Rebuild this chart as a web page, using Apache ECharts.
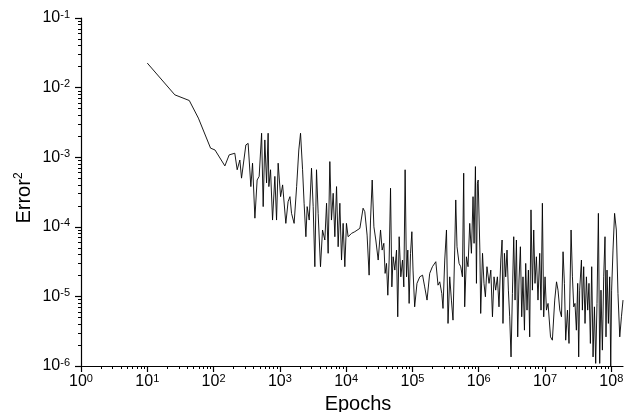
<!DOCTYPE html>
<html><head><meta charset="utf-8">
<script src="https://cdn.jsdelivr.net/npm/echarts@6/dist/echarts.min.js"></script>
<style>html,body{margin:0;padding:0;background:#fff}#c{width:624px;height:412px}</style>
</head><body><div id="c"></div>
<script>
const epochs = [10,26,43,59,90,105,148,172,209,227,249,264,307,332,365,387,420,454,487,530,560,593,630,665,
682,723,775,840,891,942,
1025,1100,1230,1330,1420,1500,1640,1790,1930,2050,
2200,2320,2470,2580,2770,3000,3180,3370,3570,3780,
4100,4400,4770,5060,5350,5670,6000,6370,6750,7160,
7570,8030,8510,9000,9550,1.01e4,1.07e4,1.21e4,1.35e4,1.61e4,
1.8e4,1.91e4,2.07e4,2.22e4,2.33e4,2.47e4,2.62e4,2.8e4,3.04e4,3.3e4,
3.49e4,3.7e4,3.87e4,4.06e4,4.25e4,4.45e4,4.67e4,4.89e4,5.11e4,5.42e4,
5.75e4,6.0e4,6.3e4,6.68e4,7.08e4,7.41e4,7.75e4,8.14e4,8.51e4,8.91e4,
9.35e4,9.8e4,1.02e5,1.08e5,1.17e5,1.29e5,1.42e5,1.53e5,1.66e5,1.82e5,
2.0e5,2.25e5,2.43e5,2.58e5,2.77e5,2.89e5,3.07e5,3.26e5,3.44e5,3.65e5,
3.87e5,4.09e5,4.34e5,4.5e5,4.7e5,5.05e5,5.35e5,5.67e5,5.93e5,6.14e5,
6.52e5,6.89e5,7.31e5,7.75e5,8.2e5,8.5e5,8.91e5,9.23e5,9.55e5,9.8e5,
1.04e6,1.07e6,1.14e6,1.2e6,1.26e6,1.33e6,1.43e6,1.52e6,1.61e6,1.7e6,
1.8e6,1.91e6,2.02e6,2.15e6,2.25e6,2.32e6,2.44e6,2.55e6,2.67e6,2.8e6,
2.93e6,3.07e6,3.22e6,3.37e6,3.53e6,3.7e6,3.87e6,4.05e6,4.25e6,4.45e6,
4.65e6,4.89e6,5.11e6,5.35e6,5.61e6,5.87e6,6.14e6,6.45e6,6.75e6,7.06e6,
7.41e6,7.83e6,8.31e6,8.7e6,9.12e6,9.55e6,1.0e7,1.05e7,1.11e7,1.21e7,
1.29e7,1.4e7,1.49e7,1.57e7,1.67e7,1.77e7,1.87e7,1.96e7,2.05e7,2.18e7,
2.3e7,2.47e7,2.59e7,2.71e7,2.83e7,2.97e7,3.11e7,3.22e7,3.33e7,3.54e7,
3.66e7,3.83e7,4.01e7,4.21e7,4.4e7,4.6e7,4.83e7,5.06e7,5.3e7,5.56e7,
5.81e7,6.08e7,6.38e7,6.68e7,6.98e7,7.33e7,7.67e7,8.03e7,8.31e7,8.61e7,
9.03e7,9.45e7,9.8e7,1.01e8,1.06e8,1.12e8,1.19e8,1.26e8,1.34e8,1.42e8,1.5e8];

const errors = [2.25e-2,7.87e-3,6.52e-3,3.64e-3,1.35e-3,1.27e-3,7.5e-4,1.08e-3,1.14e-3,6.6e-4,9.1e-4,5.0e-4,1.5e-3,1.58e-3,3.78e-4,8.2e-4,1.33e-4,4.7e-4,5.3e-4,2.21e-3,1.95e-4,1.77e-3,4.27e-4,2.21e-3,
3.78e-4,6.6e-4,1.25e-4,5.3e-4,1.25e-4,8.2e-4,
2.71e-4,4.0e-4,1.12e-4,2.3e-4,2.71e-4,1.56e-4,1.12e-4,3.78e-4,1.27e-3,2.21e-3,
6.6e-4,2.18e-4,7.2e-5,1.95e-4,1.25e-4,6.95e-4,1.95e-4,2.67e-5,6.6e-4,1.56e-4,
2.67e-5,9.0e-5,6.46e-5,2.18e-4,4.16e-5,8.65e-4,1.25e-4,3.03e-4,7.2e-5,3.78e-4,
5.17e-5,2.18e-4,3.33e-5,1.12e-4,2.67e-5,1.12e-4,7.2e-5,8.06e-5,8.5e-5,9.5e-5,
1.85e-4,1.65e-4,7.6e-5,2.02e-5,1.25e-4,4.7e-4,1.0e-4,6.46e-5,3.33e-5,9.0e-5,
4.63e-5,5.79e-5,2.14e-5,2.98e-5,1.04e-5,3.33e-5,3.58e-4,1.37e-5,3.71e-5,2.39e-5,
4.63e-5,5.09e-6,7.2e-5,1.91e-5,3.33e-5,1.37e-5,6.6e-4,1.91e-5,4.63e-5,7.93e-6,
4.16e-5,8.5e-5,2.39e-5,7.08e-6,1.54e-5,1.91e-5,2.02e-5,1.37e-5,8.85e-6,2.14e-5,
2.67e-5,3.15e-5,1.45e-5,1.62e-5,1.1e-5,6.72e-6,3.33e-5,9.0e-5,4.09e-6,1.91e-5,
8.85e-6,4.56e-6,4.63e-5,2.43e-4,5.17e-5,2.98e-5,2.67e-5,1.91e-5,5.89e-4,7.08e-6,
3.71e-5,2.67e-5,1.12e-4,4.16e-5,2.71e-4,5.79e-5,7.33e-4,1.54e-5,4.23e-4,4.7e-4,
4.63e-5,5.69e-6,4.16e-5,1.54e-5,9.87e-6,2.67e-5,1.54e-5,2.39e-5,5.09e-6,1.91e-5,
1.23e-5,1.91e-5,7.08e-6,3.33e-5,6.46e-5,4.09e-6,4.16e-5,1.91e-5,4.63e-5,1.23e-5,
5.09e-6,1.35e-6,1.1e-5,7.2e-5,8.85e-6,6.46e-5,2.62e-6,1.72e-5,5.17e-5,5.09e-6,
1.91e-5,3.27e-6,2.98e-5,6.35e-6,2.39e-5,2.62e-6,1.75e-4,1.23e-5,9.0e-5,1.54e-5,
3.71e-5,8.85e-6,4.16e-5,6.35e-6,2.18e-4,5.09e-6,1.91e-5,6.35e-6,7.93e-6,2.62e-6,
2.35e-6,8.85e-6,1.62e-5,1.23e-5,6.35e-6,5.09e-6,4.38e-5,1.54e-5,2.35e-6,6.35e-6,
2.11e-6,9.0e-5,1.91e-5,7.08e-6,7.93e-6,3.27e-6,1.54e-5,1.35e-6,1.23e-5,3.33e-5,
6.35e-6,2.67e-5,4.09e-6,1.91e-5,6.35e-6,1.54e-5,2.11e-6,2.67e-5,1.35e-6,7.08e-6,
1.09e-6,7.93e-6,1.56e-4,1.09e-6,1.23e-5,1.69e-6,1.91e-5,7.2e-5,2.62e-6,2.39e-5,
4.09e-6,1.91e-5,1.0e-6,1.23e-5,4.63e-5,1.56e-4,9.0e-5,1.1e-5,2.62e-6,5.09e-6,8.85e-6];

// tick labels: decade exponents
const xDecades = [0,1,2,3,4,5,6,7,8];
const yDecades = [-6,-5,-4,-3,-2,-1];
const mantissas = [2,3,4,5,6,7,8,9];

const X_MIN = 1, X_MAX = 1.5e8, Y_MIN = 1e-6, Y_MAX = 1e-1;
const FONT = 'Liberation Sans';

// decade-exponent scale used only to draw log ticks (same pixel range as the log axes)
const xExpMin = Math.log10(X_MIN), xExpMax = Math.log10(X_MAX);
const yExpMin = Math.log10(Y_MIN), yExpMax = Math.log10(Y_MAX);
const minorOf = decs => {
  const out = [];
  decs.forEach(d => mantissas.forEach(m => out.push(d + Math.log10(m))));
  return out;
};
const xMinor = minorOf(xDecades).filter(v => v <= xExpMax);
const yMinor = minorOf(yDecades.slice(0, -1));

const labelRich = {
  b: { fontSize: 16, fontFamily: FONT, color: '#000', lineHeight: 18 },
  s: { fontSize: 11, fontFamily: FONT, color: '#000', lineHeight: 11, verticalAlign: 'top' }
};
const powLabel = v => '{b|10}{s|' + Math.round(v) + '}';

const chart = echarts.init(document.getElementById('c'), null, { renderer: 'canvas' });
chart.setOption({
  animation: false,
  backgroundColor: '#fff',
  grid: { left: 81, right: 1, top: 18, bottom: 46, containLabel: false, outerBoundsMode: 'none' },
  xAxis: [{
    type: 'log', logBase: 10, min: X_MIN, max: X_MAX,
    splitLine: { show: false },
    axisLine: { show: true, onZero: false, lineStyle: { color: '#000', width: 1.2 } },
    axisTick: { show: false },
    axisLabel: { show: false },
    name: '{a|Epochs}', nameLocation: 'middle', nameGap: 28,
    nameTextStyle: { rich: { a: { fontSize: 20, fontFamily: FONT, color: '#000', padding: [0, 0, 0, 12] } } }
  }, {
    type: 'value', min: xExpMin, max: xExpMax, position: 'bottom',
    splitLine: { show: false },
    axisLine: { show: false, onZero: false },
    axisTick: { show: true, inside: false, length: 6, customValues: xDecades, lineStyle: { color: '#000', width: 1.2 } },
    axisLabel: { show: true, margin: 7, customValues: xDecades, formatter: powLabel, rich: labelRich }
  }, {
    type: 'value', min: xExpMin, max: xExpMax, position: 'bottom',
    splitLine: { show: false },
    axisLine: { show: false, onZero: false },
    axisTick: { show: true, inside: false, length: 3, customValues: xMinor, lineStyle: { color: '#000', width: 1 } },
    axisLabel: { show: false }
  }],
  yAxis: [{
    type: 'log', logBase: 10, min: Y_MIN, max: Y_MAX,
    splitLine: { show: false },
    axisLine: { show: true, onZero: false, lineStyle: { color: '#000', width: 1.2 } },
    axisTick: { show: false },
    axisLabel: { show: false },
    name: '{a|Error}{s|2}', nameLocation: 'middle', nameGap: 46,
    nameTextStyle: { padding: [0, 12, 0, 0], rich: {
      a: { fontSize: 20, fontFamily: FONT, color: '#000', lineHeight: 22 },
      s: { fontSize: 12, fontFamily: FONT, color: '#000', lineHeight: 12, verticalAlign: 'top' }
    } }
  }, {
    type: 'value', min: yExpMin, max: yExpMax, position: 'left',
    splitLine: { show: false },
    axisLine: { show: false, onZero: false },
    axisTick: { show: true, inside: false, length: 6, customValues: yDecades, lineStyle: { color: '#000', width: 1.2 } },
    axisLabel: { show: true, margin: 11, customValues: yDecades, formatter: powLabel, rich: labelRich }
  }, {
    type: 'value', min: yExpMin, max: yExpMax, position: 'left',
    splitLine: { show: false },
    axisLine: { show: false, onZero: false },
    axisTick: { show: true, inside: false, length: 3, customValues: yMinor, lineStyle: { color: '#000', width: 1 } },
    axisLabel: { show: false }
  }],
  series: [{
    type: 'line',
    xAxisIndex: 0, yAxisIndex: 0,
    data: epochs.map((x, i) => [x, errors[i]]),
    showSymbol: false,
    symbol: 'none',
    clip: true,
    lineStyle: { color: '#000', width: 0.9 }
  }]
});
</script>
</body></html>
